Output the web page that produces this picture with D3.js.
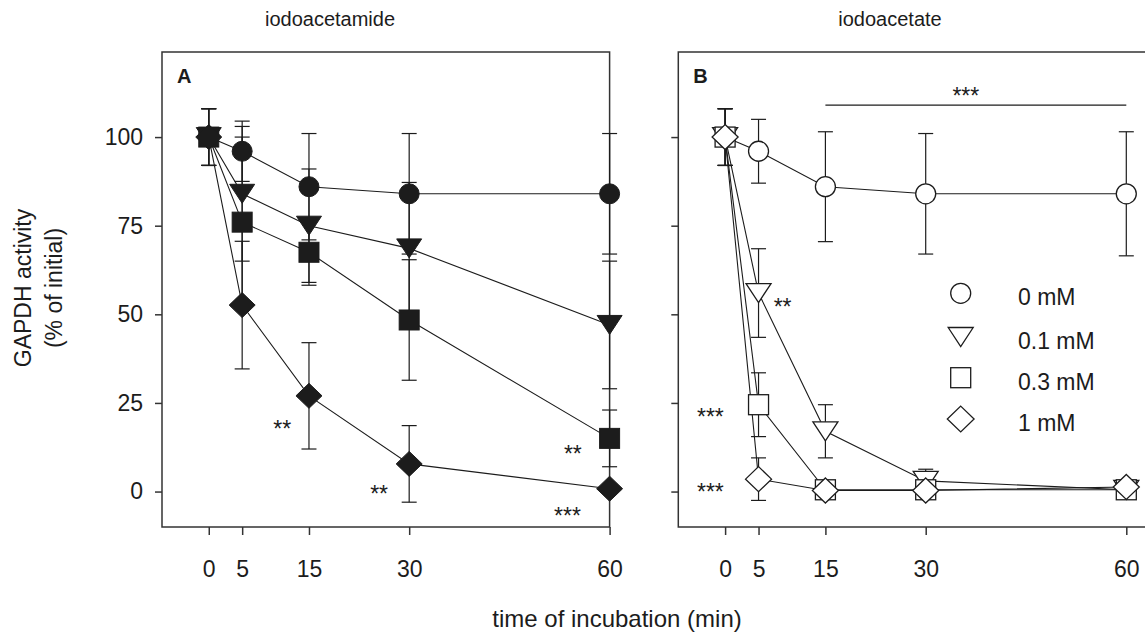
<!DOCTYPE html>
<html><head><meta charset="utf-8">
<script src="https://cdn.jsdelivr.net/npm/d3@7"></script>
<style>body{margin:0;background:#fff} svg{display:block;font-family:"Liberation Sans",Arial,Helvetica,sans-serif}</style>
</head><body><svg id="c" width="1145" height="635"></svg>
<script>
// ---------- data ----------
const timePoints = [0, 5, 15, 30, 60];
const xTickLabels = ["0", "5", "15", "30", "60"];
const yTicks = [0, 25, 50, 75, 100];
const seriesNames = ["0 mM", "0.1 mM", "0.3 mM", "1 mM"];
const seriesShapes = ["circle", "triangle", "square", "diamond"];
const panelTitles = ["iodoacetamide", "iodoacetate"];
const panelLetters = ["A", "B"];

// Panel A: iodoacetamide (mean, error)
const amide0 = [100, 96, 86, 84, 84];
const amide0Err = [8, 8.5, 15, 17, 17];
const amide01 = [100, 84, 75, 68.6, 47];
const amide01Err = [8, 19, 16, 18.6, 18];
const amide03 = [100, 76, 67.5, 48.4, 15];
const amide03Err = [8, 24, 9.3, 17, 8];
const amide1 = [100, 52.6, 27, 7.8, 0.8];
const amide1Err = [8, 18, 15, 10.8, 1];

// Panel B: iodoacetate (mean, error)
const acetate0 = [100, 96, 86, 84, 84];
const acetate0Err = [8, 9, 15.5, 17, 17.5];
const acetate01 = [100, 56, 17, 3, 0.5];
const acetate01Err = [8, 12.5, 7.5, 3.3, 1];
const acetate03 = [100, 24.5, 0.5, 0.5, 0.5];
const acetate03Err = [8, 9, 1, 1, 1];
const acetate1 = [100, 3.5, 0.3, 0.3, 1.3];
const acetate1Err = [8, 6, 1, 1, 1];

// significance marks: [time, value, text]
const starsA = [[11, 19, "**"], [25.5, 0.6, "**"], [54.5, 12, "**"], [53.7, -5.5, "***"]];
const starsB = [[8.6, 53.6, "**"], [-2.2, 22.4, "***"], [-2.2, 1.2, "***"], [36, 113, "***"]];
const barB = [15, 60, 109]; // from time, to time, at value

// ---------- drawing ----------
const svg = d3.select("#c");
const ink = "#1c1c1c";
const y = d3.scaleLinear().domain([-10, 124]).range([527, 52]);
const xA = d3.scaleLinear().domain([-7, 60]).range([162, 609.6]);
const xB = d3.scaleLinear().domain([-7, 60]).range([678.3, 1126.3]);

function shapePath(kind) {
  if (kind === "circle") return d3.path().toString();
  return null;
}
function drawMarker(g, kind, cx, cy, filled, scale = 1) {
  const fill = filled ? ink : "#fff";
  const sw = filled ? 1 : 1.3;
  let el;
  if (kind === "circle") {
    el = g.append("circle").attr("cx", cx).attr("cy", cy).attr("r", 10 * scale);
  } else if (kind === "square") {
    const s = 10 * scale;
    el = g.append("rect").attr("x", cx - s).attr("y", cy - s).attr("width", 2 * s).attr("height", 2 * s);
  } else if (kind === "triangle") {
    const w = 12.5 * scale, h = 9.5 * scale;
    el = g.append("path").attr("d", `M${cx - w},${cy - h}L${cx + w},${cy - h}L${cx},${cy + h}Z`);
  } else {
    const w = 13 * scale, h = 12.5 * scale;
    el = g.append("path").attr("d", `M${cx},${cy - h}L${cx + w},${cy}L${cx},${cy + h}L${cx - w},${cy}Z`);
  }
  el.attr("fill", fill).attr("stroke", ink).attr("stroke-width", sw);
}

function drawPanel(idx, x, means, errs, filled, stars) {
  const g = svg.append("g");
  // frame
  if (idx === 0) {
    g.append("rect").attr("x", x(-7)).attr("y", y(124)).attr("width", x(60) - x(-7)).attr("height", y(-10) - y(124))
      .attr("fill", "none").attr("stroke", "#333").attr("stroke-width", 1.5);
  } else {
    g.append("path").attr("d", `M${x(64)},${y(124)}H${x(-7)}V${y(-10)}H${x(64)}`)
      .attr("fill", "none").attr("stroke", "#333").attr("stroke-width", 1.5);
  }
  // axes
  const ya = d3.axisLeft(y).tickValues(yTicks).tickSize(7).tickPadding(12);
  if (idx === 1) ya.tickFormat("");
  const yg = g.append("g").attr("transform", `translate(${x(-7)},0)`).call(ya);
  yg.select(".domain").remove();
  yg.selectAll("line").attr("stroke", "#333").attr("stroke-width", 1.5);
  yg.selectAll("text").attr("font-size", 23).attr("fill", ink).attr("font-family", null);

  const xa = d3.axisBottom(x).tickValues(timePoints).tickFormat((d, i) => xTickLabels[i]).tickSize(8);
  const xg = g.append("g").attr("transform", `translate(0,${y(-10)})`).call(xa);
  xg.select(".domain").remove();
  xg.selectAll("line").attr("stroke", "#333").attr("stroke-width", 1.5);
  xg.selectAll("text").attr("font-size", 23).attr("fill", ink).attr("font-family", null).attr("y", 50).attr("dy", 0);

  // title & letter
  g.append("text").attr("x", idx === 0 ? 330 : 890).attr("y", 26).attr("text-anchor", "middle")
    .attr("font-size", 20).attr("fill", ink).text(panelTitles[idx]);
  g.append("text").attr("x", x(-7) + 15).attr("y", 83).attr("font-size", 20).attr("font-weight", "bold")
    .attr("fill", ink).text(panelLetters[idx]);

  // lines
  const line = d3.line().x((d, i) => x(timePoints[i])).y(d => y(d));
  means.forEach(m => {
    g.append("path").attr("d", line(m)).attr("fill", "none").attr("stroke", ink).attr("stroke-width", 1.1);
  });
  // error bars
  means.forEach((m, s) => {
    m.forEach((v, i) => {
      const e = errs[s][i];
      if (e < 2) return;
      const cx = x(timePoints[i]);
      g.append("line").attr("x1", cx).attr("x2", cx).attr("y1", y(v - e)).attr("y2", y(v + e))
        .attr("stroke", ink).attr("stroke-width", 1.2);
      [v - e, v + e].forEach(w => g.append("line").attr("x1", cx - 7.5).attr("x2", cx + 7.5)
        .attr("y1", y(w)).attr("y2", y(w)).attr("stroke", ink).attr("stroke-width", 1.2));
    });
  });
  // markers
  means.forEach((m, s) => {
    m.forEach((v, i) => drawMarker(g, seriesShapes[s], x(timePoints[i]), y(v), filled));
  });
  // stars
  stars.forEach(([t, v, txt]) => {
    g.append("text").attr("x", x(t)).attr("y", y(v) + 13).attr("text-anchor", "middle")
      .attr("font-size", 23).attr("fill", ink).text(txt);
  });
}

drawPanel(0, xA, [amide0, amide01, amide03, amide1], [amide0Err, amide01Err, amide03Err, amide1Err], true, starsA);
drawPanel(1, xB, [acetate0, acetate01, acetate03, acetate1], [acetate0Err, acetate01Err, acetate03Err, acetate1Err], false, starsB);

// significance bar in B
svg.append("line").attr("x1", xB(barB[0])).attr("x2", xB(barB[1])).attr("y1", y(barB[2])).attr("y2", y(barB[2]))
  .attr("stroke", ink).attr("stroke-width", 1.1);

// legend
const legY = [293.3, 337, 377.7, 419];
const lg = svg.append("g");
seriesNames.forEach((name, i) => {
  drawMarker(lg, seriesShapes[i], 960.7, legY[i], false, i === 3 ? 1.03 : 1);
  lg.append("text").attr("x", 1018).attr("y", legY[i] + 12).attr("font-size", 23).attr("fill", ink).text(name);
});

// axis labels
svg.append("text").attr("x", 617).attr("y", 627).attr("text-anchor", "middle").attr("font-size", 24)
  .attr("fill", ink).text("time of incubation (min)");
const yl = svg.append("text").attr("text-anchor", "middle").attr("font-size", 23).attr("fill", ink)
  .attr("transform", "translate(30.5,288) rotate(-90)");
yl.append("tspan").attr("x", 0).attr("y", 0).text("GAPDH activity");
yl.append("tspan").attr("x", 0).attr("y", 31).text("(% of initial)");
</script></body></html>
